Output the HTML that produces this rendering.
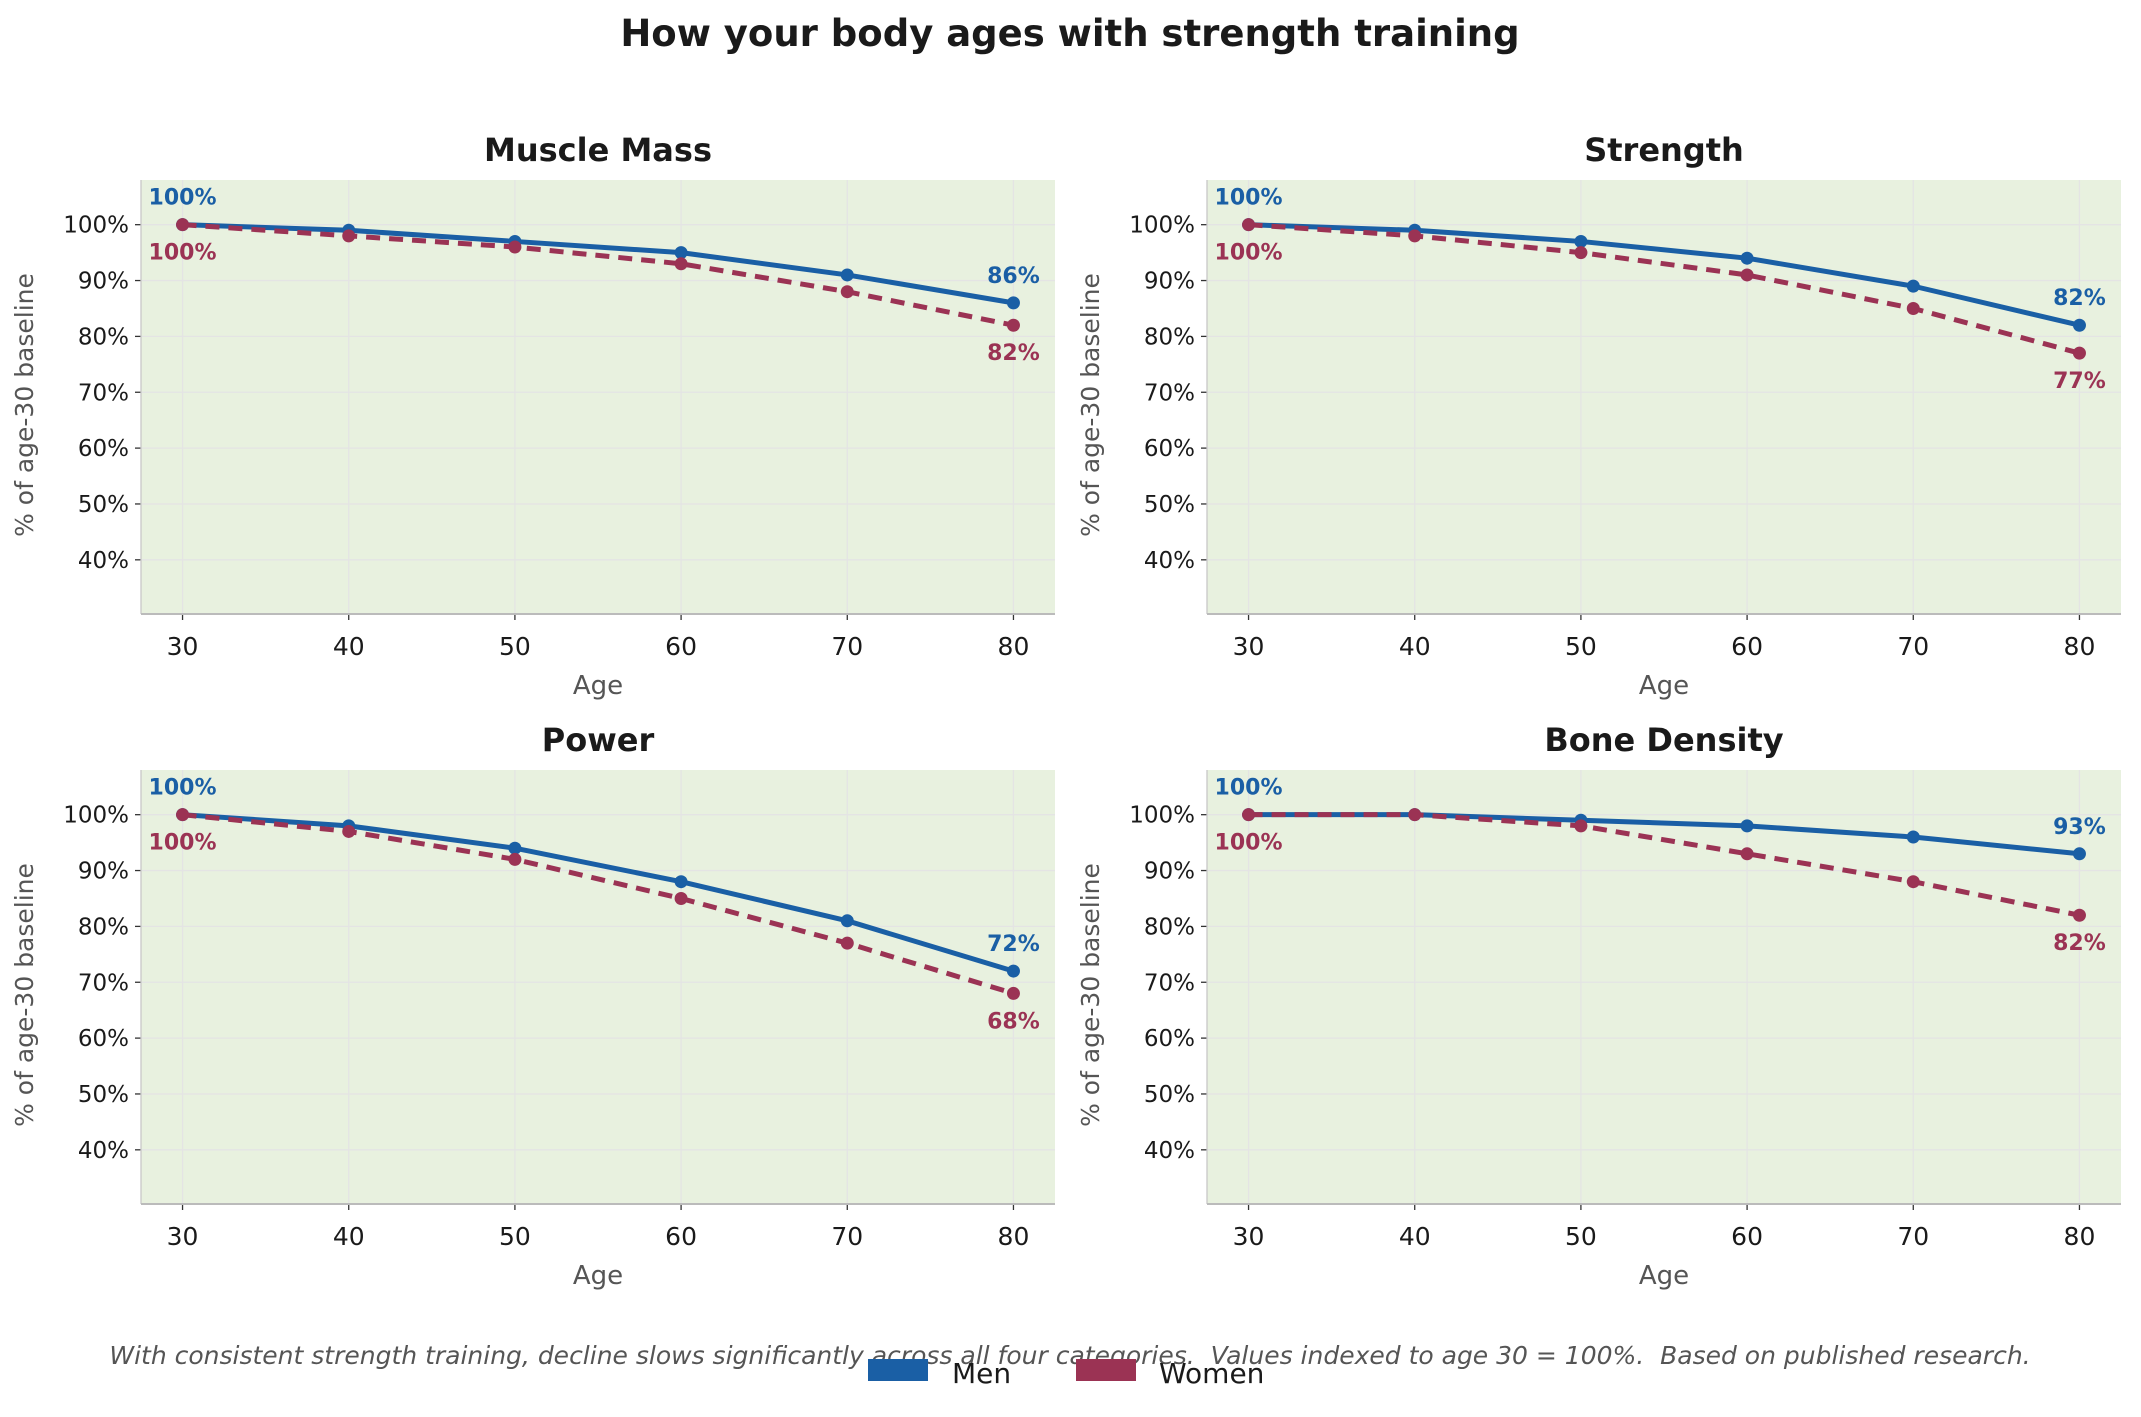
<!DOCTYPE html>
<html><head><meta charset="utf-8"><style>
html,body{margin:0;padding:0;background:#fff}
svg{display:block;font-family:"DejaVu Sans","Liberation Sans",sans-serif}
</style></head><body>
<svg id="fig" width="2141" height="1417" viewBox="0 0 2141 1417" xmlns="http://www.w3.org/2000/svg">
<text x="1070" y="46" text-anchor="middle" font-size="37" font-weight="bold" fill="#1a1a1a">How your body ages with strength training</text>
<text x="1070" y="1364" text-anchor="middle" font-size="25" font-style="italic" fill="#555" style="white-space:pre">With consistent strength training, decline slows significantly across all four categories.  Values indexed to age 30 = 100%.  Based on published research.</text>
<g>
<rect x="868" y="1359" width="60" height="22" fill="#1a5fa5"/>
<text x="952" y="1383" font-size="28" fill="#1a1a1a">Men</text>
<rect x="1076" y="1359" width="60" height="22" fill="#9b3354"/>
<text x="1159" y="1383" font-size="28" fill="#1a1a1a">Women</text>
</g>
<g id="panels"></g>
</svg>
<script>
const ages = [30, 40, 50, 60, 70, 80];
const yTicks = [40, 50, 60, 70, 80, 90, 100];
const panelTitles = ["Muscle Mass", "Strength", "Power", "Bone Density"];
const menMuscle = [100, 99, 97, 95, 91, 86];
const womenMuscle = [100, 98, 96, 93, 88, 82];
const menStrength = [100, 99, 97, 94, 89, 82];
const womenStrength = [100, 98, 95, 91, 85, 77];
const menPower = [100, 98, 94, 88, 81, 72];
const womenPower = [100, 97, 92, 85, 77, 68];
const menBone = [100, 100, 99, 98, 96, 93];
const womenBone = [100, 100, 98, 93, 88, 82];
const menSeries = [menMuscle, menStrength, menPower, menBone];
const womenSeries = [womenMuscle, womenStrength, womenPower, womenBone];

const NS = "http://www.w3.org/2000/svg";
const MEN = "#1a5fa5", WOMEN = "#9b3354";
const root = document.getElementById("panels");
function mk(tag, attrs, parent, txt) {
  const e = document.createElementNS(NS, tag);
  for (const k in attrs) e.setAttribute(k, attrs[k]);
  if (txt !== undefined) e.textContent = txt;
  parent.appendChild(e);
  return e;
}
const lefts = [141, 1207], tops = [180, 770];
const W = 914, H = 434, XMIN = 27.5, XMAX = 82.5, YMIN = 30.3, YMAX = 108;
for (let p = 0; p < 4; p++) {
  const L = lefts[p % 2], T = tops[Math.floor(p / 2)];
  const sx = v => L + (v - XMIN) / (XMAX - XMIN) * W;
  const sy = v => T + H - (v - YMIN) / (YMAX - YMIN) * H;
  const g = mk("g", {}, root);
  
  
  const bg = mk("rect", {x: L, y: T, width: W, height: H, fill: "#e8f1df"}, g);
  
  
  const t = mk("text", {x: L + W / 2, y: T - 19, "text-anchor": "middle", "font-size": 32, "font-weight": "bold", fill: "#1a1a1a"}, g, panelTitles[p]);
  
  
  for (const a of ages) {
    mk("line", {x1: sx(a), x2: sx(a), y1: T, y2: T + H, stroke: "#e4e4e4", "stroke-width": 1.3}, g);
    mk("line", {x1: sx(a), x2: sx(a), y1: T + H, y2: T + H + 6, stroke: "#333", "stroke-width": 1.3}, g);
    const tl = mk("text", {x: sx(a), y: T + H + 41, "text-anchor": "middle", "font-size": 25, fill: "#1a1a1a"}, g, String(a));
    
    
  }
  for (const v of yTicks) {
    mk("line", {x1: L, x2: L + W, y1: sy(v), y2: sy(v), stroke: "#e4e4e4", "stroke-width": 1.3}, g);
    mk("line", {x1: L - 6, x2: L, y1: sy(v), y2: sy(v), stroke: "#333", "stroke-width": 1.3}, g);
    const tl = mk("text", {x: L - 12, y: sy(v) + 8, "text-anchor": "end", "font-size": 23, fill: "#1a1a1a"}, g, v + "%");
    
    
  }
  mk("line", {x1: L, x2: L, y1: T, y2: T + H, stroke: "#c8c8c8", "stroke-width": 1.3}, g);
  mk("line", {x1: L, x2: L + W, y1: T + H, y2: T + H, stroke: "#bbbbbb", "stroke-width": 2}, g);
  const xl = mk("text", {x: L + W / 2, y: T + H + 80, "text-anchor": "middle", "font-size": 26, fill: "#555"}, g, "Age");
  
  
  const yx = L - 108, yy = T + H / 2 + 8;
  const yl = mk("text", {x: yx, y: yy, "text-anchor": "middle", "font-size": 25, fill: "#555", transform: `rotate(-90 ${yx} ${yy})`}, g, "% of age-30 baseline");
  
  
  const series = [[menSeries[p], MEN, "", "men"], [womenSeries[p], WOMEN, "14 9", "women"]];
  for (const [vals, col, dash, nm] of series) {
    const pts = vals.map((v, i) => sx(ages[i]) + "," + sy(v)).join(" ");
    const ln = mk("polyline", {points: pts, fill: "none", stroke: col, "stroke-width": 5, "stroke-dasharray": dash, "stroke-linejoin": "round"}, g);
    
    
    vals.forEach((v, i) => {
      const c = mk("circle", {cx: sx(ages[i]), cy: sy(v), r: 6.5, fill: col}, g);
      
      
    });
    const dy = nm === "men" ? -20 : 35;
    const first = mk("text", {x: sx(ages[0]), y: sy(vals[0]) + dy, "text-anchor": "middle", "font-size": 22, "font-weight": "bold", fill: col}, g, vals[0] + "%");
    
    
    const n = vals.length - 1;
    const last = mk("text", {x: sx(ages[n]), y: sy(vals[n]) + dy, "text-anchor": "middle", "font-size": 22, "font-weight": "bold", fill: col}, g, vals[n] + "%");
    
    
  }
}
</script>
</body></html>
